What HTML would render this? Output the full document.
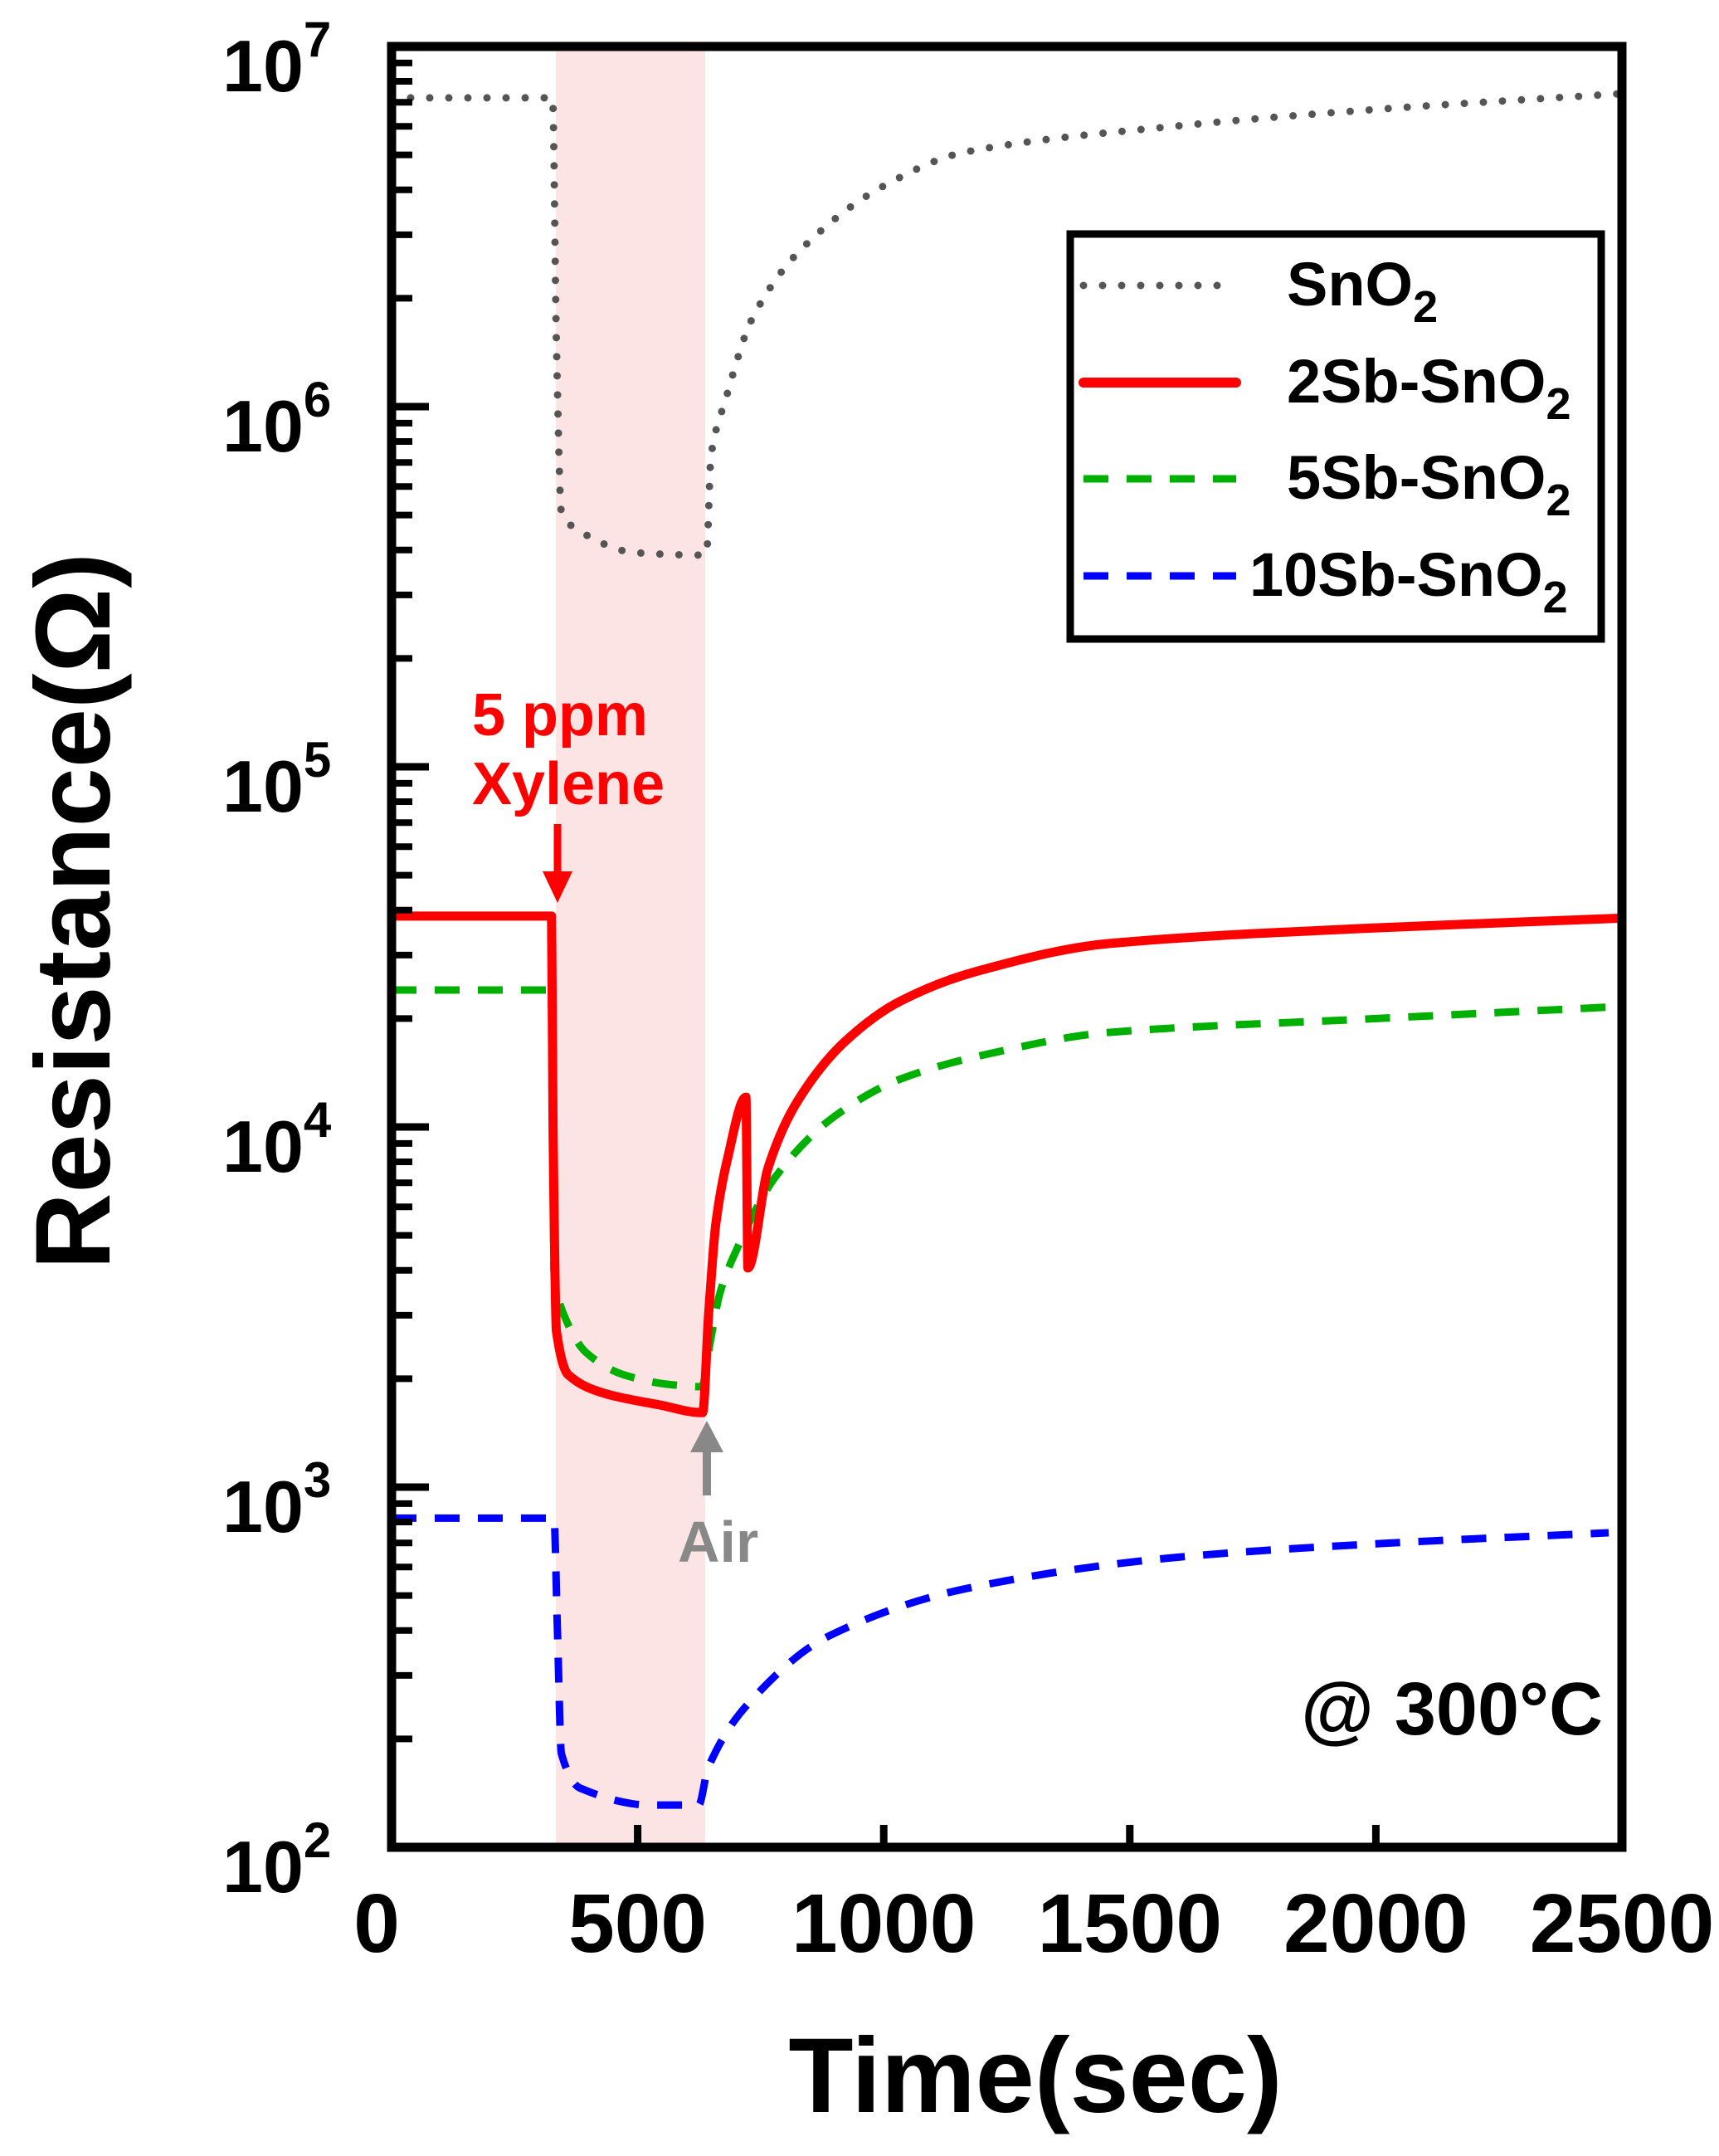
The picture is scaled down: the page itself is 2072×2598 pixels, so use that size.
<!DOCTYPE html>
<html><head><meta charset="utf-8"><style>
html,body{margin:0;padding:0;background:#fff;}
svg{display:block;font-family:"Liberation Sans",Arial,sans-serif;font-weight:bold;}
</style></head><body>
<svg id="chart" width="2072" height="2598" viewBox="0 0 2072 2598" xmlns="http://www.w3.org/2000/svg">
<rect id="band" fill="#fde4e4"/>
<g id="series"></g>
<g id="ticks"></g>
<rect x="472" y="56" width="1483" height="2170" fill="none" stroke="#000" stroke-width="11"/>
<g id="labels"></g>
<g>
<rect x="1290" y="282" width="640" height="488" fill="#fff" stroke="#000" stroke-width="9"/>
<line x1="1306" y1="344" x2="1490" y2="344" stroke="#555" stroke-width="9" stroke-linecap="round" stroke-dasharray="0 23"/>
<line x1="1306" y1="461" x2="1490" y2="461" stroke="#f00" stroke-width="12" stroke-linecap="round"/>
<line x1="1306" y1="577" x2="1490" y2="577" stroke="#00b000" stroke-width="9" stroke-dasharray="30 22"/>
<line x1="1306" y1="694" x2="1490" y2="694" stroke="#0000ff" stroke-width="9" stroke-dasharray="30 22"/>
<text x="1551" y="368" font-size="74">SnO<tspan font-size="54" dy="20">2</tspan></text>
<text x="1551" y="485" font-size="74">2Sb-SnO<tspan font-size="54" dy="20">2</tspan></text>
<text x="1551" y="601" font-size="74">5Sb-SnO<tspan font-size="54" dy="20">2</tspan></text>
<text x="1506" y="718" font-size="74">10Sb-SnO<tspan font-size="54" dy="20">2</tspan></text>
</g>
<text fill="#f00" font-size="72"><tspan x="569" y="886">5 ppm</tspan><tspan x="569" y="969">Xylene</tspan></text>
<line x1="672" y1="993" x2="672" y2="1055" stroke="#f00" stroke-width="9"/>
<polygon points="654,1050 690,1050 672,1088" fill="#f00"/>
<line x1="852" y1="1802" x2="852" y2="1745" stroke="#888" stroke-width="10"/>
<polygon points="832,1750 872,1750 852,1712" fill="#888"/>
<text x="817" y="1882" fill="#888" font-size="70">Air</text>
<text x="1932" y="2090" text-anchor="end" font-size="90">@ 300°C</text>
<text x="1248" y="2545" text-anchor="middle" font-size="128">Time(sec)</text>
<text transform="translate(132,1098) rotate(-90)" text-anchor="middle" font-size="128">Resistance(Ω)</text>
</svg>
<script>
const xTicks = [0, 500, 1000, 1500, 2000, 2500];
const yDecades = [2, 3, 4, 5, 6, 7];
const bandStart = 334;
const bandEnd = 637;

const sno2T = [0, 327, 335, 345, 383, 495, 635, 640, 649, 678, 734, 833, 1000, 1168, 1588, 2009, 2500];
const sno2V = [7.2e6, 7.2e6, 1.5e6, 5.1e5, 4.5e5, 3.93e5, 3.87e5, 3.9e5, 7.3e5, 1.04e6, 1.77e6, 2.74e6, 4.1e6, 5.1e6, 6.0e6, 6.7e6, 7.4e6];

const sb2T = [0, 325, 328, 335, 359, 433, 546, 629, 632, 644, 659, 682, 720, 724, 765, 825, 922, 1035, 1187, 1457, 2000, 2500];
const sb2V = [3.85e4, 3.85e4, 1e4, 2.71e3, 2.05e3, 1.82e3, 1.69e3, 1.61e3, 1.61e3, 2.99e3, 5.4e3, 8.1e3, 1.21e4, 4.06e3, 7.7e3, 1.18e4, 1.73e4, 2.24e4, 2.7e4, 3.23e4, 3.57e4, 3.8e4];

const sb5T = [0, 326, 330, 351, 396, 472, 561, 630, 649, 667, 698, 781, 900, 1035, 1217, 1457, 2000, 2500];
const sb5V = [2.4e4, 2.4e4, 3.97e3, 2.99e3, 2.36e3, 2.05e3, 1.93e3, 1.9e3, 2.6e3, 3.45e3, 4.47e3, 7.3e3, 1.07e4, 1.36e4, 1.6e4, 1.83e4, 2.0e4, 2.16e4];

const sb10T = [0, 330, 337, 345, 383, 526, 624, 643, 722, 887, 1168, 1588, 2009, 2473];
const sb10V = [820, 820, 400, 182, 146, 131, 131, 166, 248, 385, 523, 637, 697, 747];

const NS = 'http://www.w3.org/2000/svg';
const X0 = 472, X1 = 1955, Y0 = 2226, Y1 = 56;
function xs(t){ return X0 + (t / 2500) * (X1 - X0); }
function ys(v){ return Y0 - (Math.log10(v) - 2) / 5 * (Y0 - Y1); }

const band = document.getElementById('band');
band.setAttribute('x', xs(bandStart)); band.setAttribute('y', Y1);
band.setAttribute('width', xs(bandEnd) - xs(bandStart)); band.setAttribute('height', Y0 - Y1);

function monoPath(X, Y){
  const n = X.length, d = [], m = [];
  for (let i = 0; i < n - 1; i++) d.push((Y[i+1] - Y[i]) / (X[i+1] - X[i]));
  m[0] = d[0]; m[n-1] = d[n-2];
  for (let i = 1; i < n - 1; i++) m[i] = (d[i-1] * d[i] <= 0) ? 0 : 2 / (1 / d[i-1] + 1 / d[i]);
  let s = 'M' + X[0].toFixed(1) + ' ' + Y[0].toFixed(1);
  for (let i = 0; i < n - 1; i++) {
    const h = (X[i+1] - X[i]) / 3;
    s += ' C' + (X[i] + h).toFixed(1) + ' ' + (Y[i] + m[i] * h).toFixed(1) + ' ' +
         (X[i+1] - h).toFixed(1) + ' ' + (Y[i+1] - m[i+1] * h).toFixed(1) + ' ' +
         X[i+1].toFixed(1) + ' ' + Y[i+1].toFixed(1);
  }
  return s;
}

const series = document.getElementById('series');
function drawLine(T, V, name, color, w, dash, cap){
  const p = document.createElementNS(NS, 'path');
  p.setAttribute('d', monoPath(T.map(xs), V.map(ys)));
  p.setAttribute('fill', 'none');
  p.setAttribute('stroke', color);
  p.setAttribute('stroke-width', w);
  p.setAttribute('stroke-linejoin', 'round');
  if (dash) p.setAttribute('stroke-dasharray', dash);
  if (cap) p.setAttribute('stroke-linecap', cap);
  
  
  series.appendChild(p);
}
drawLine(sno2T, sno2V, 'series-sno2', '#555', 9, '0 23', 'round');
drawLine(sb5T, sb5V, 'series-5sb-sno2', '#00b000', 9, '30 22');
drawLine(sb10T, sb10V, 'series-10sb-sno2', '#0000ff', 9, '30 22');
drawLine(sb2T, sb2V, 'series-2sb-sno2', '#f00', 11);

const ticks = document.getElementById('ticks');
const labels = document.getElementById('labels');
function mkLine(x1, y1, x2, y2, w, name){
  const l = document.createElementNS(NS, 'line');
  l.setAttribute('x1', x1); l.setAttribute('y1', y1); l.setAttribute('x2', x2); l.setAttribute('y2', y2);
  l.setAttribute('stroke', '#000'); l.setAttribute('stroke-width', w);
  
  
  ticks.appendChild(l);
}
xTicks.forEach(t => {
  if (t > 0 && t < 2500) mkLine(xs(t), Y0, xs(t), Y0 - 27, 9, 'x-tick');
  const tx = document.createElementNS(NS, 'text');
  tx.setAttribute('x', xs(t) - (t === 0 ? 18 : 0)); tx.setAttribute('y', 2352);
  tx.setAttribute('text-anchor', 'middle'); tx.setAttribute('font-size', '100');
  tx.textContent = t;
  
  
  labels.appendChild(tx);
});
yDecades.forEach(d => {
  mkLine(X0, ys(Math.pow(10, d)), X0 + 45, ys(Math.pow(10, d)), 9, 'y-major-tick');
  if (d < 7) for (let m = 2; m <= 9; m++) mkLine(X0, ys(m * Math.pow(10, d)), X0 + 25, ys(m * Math.pow(10, d)), 8, 'y-minor-tick');
  const tx = document.createElementNS(NS, 'text');
  tx.setAttribute('x', 268); tx.setAttribute('y', ys(Math.pow(10, d)) + 54);
  tx.setAttribute('font-size', '88');
  
  
  tx.innerHTML = '10<tspan font-size="60" dy="-42">' + d + '</tspan>';
  labels.appendChild(tx);
});
</script>
</body></html>
